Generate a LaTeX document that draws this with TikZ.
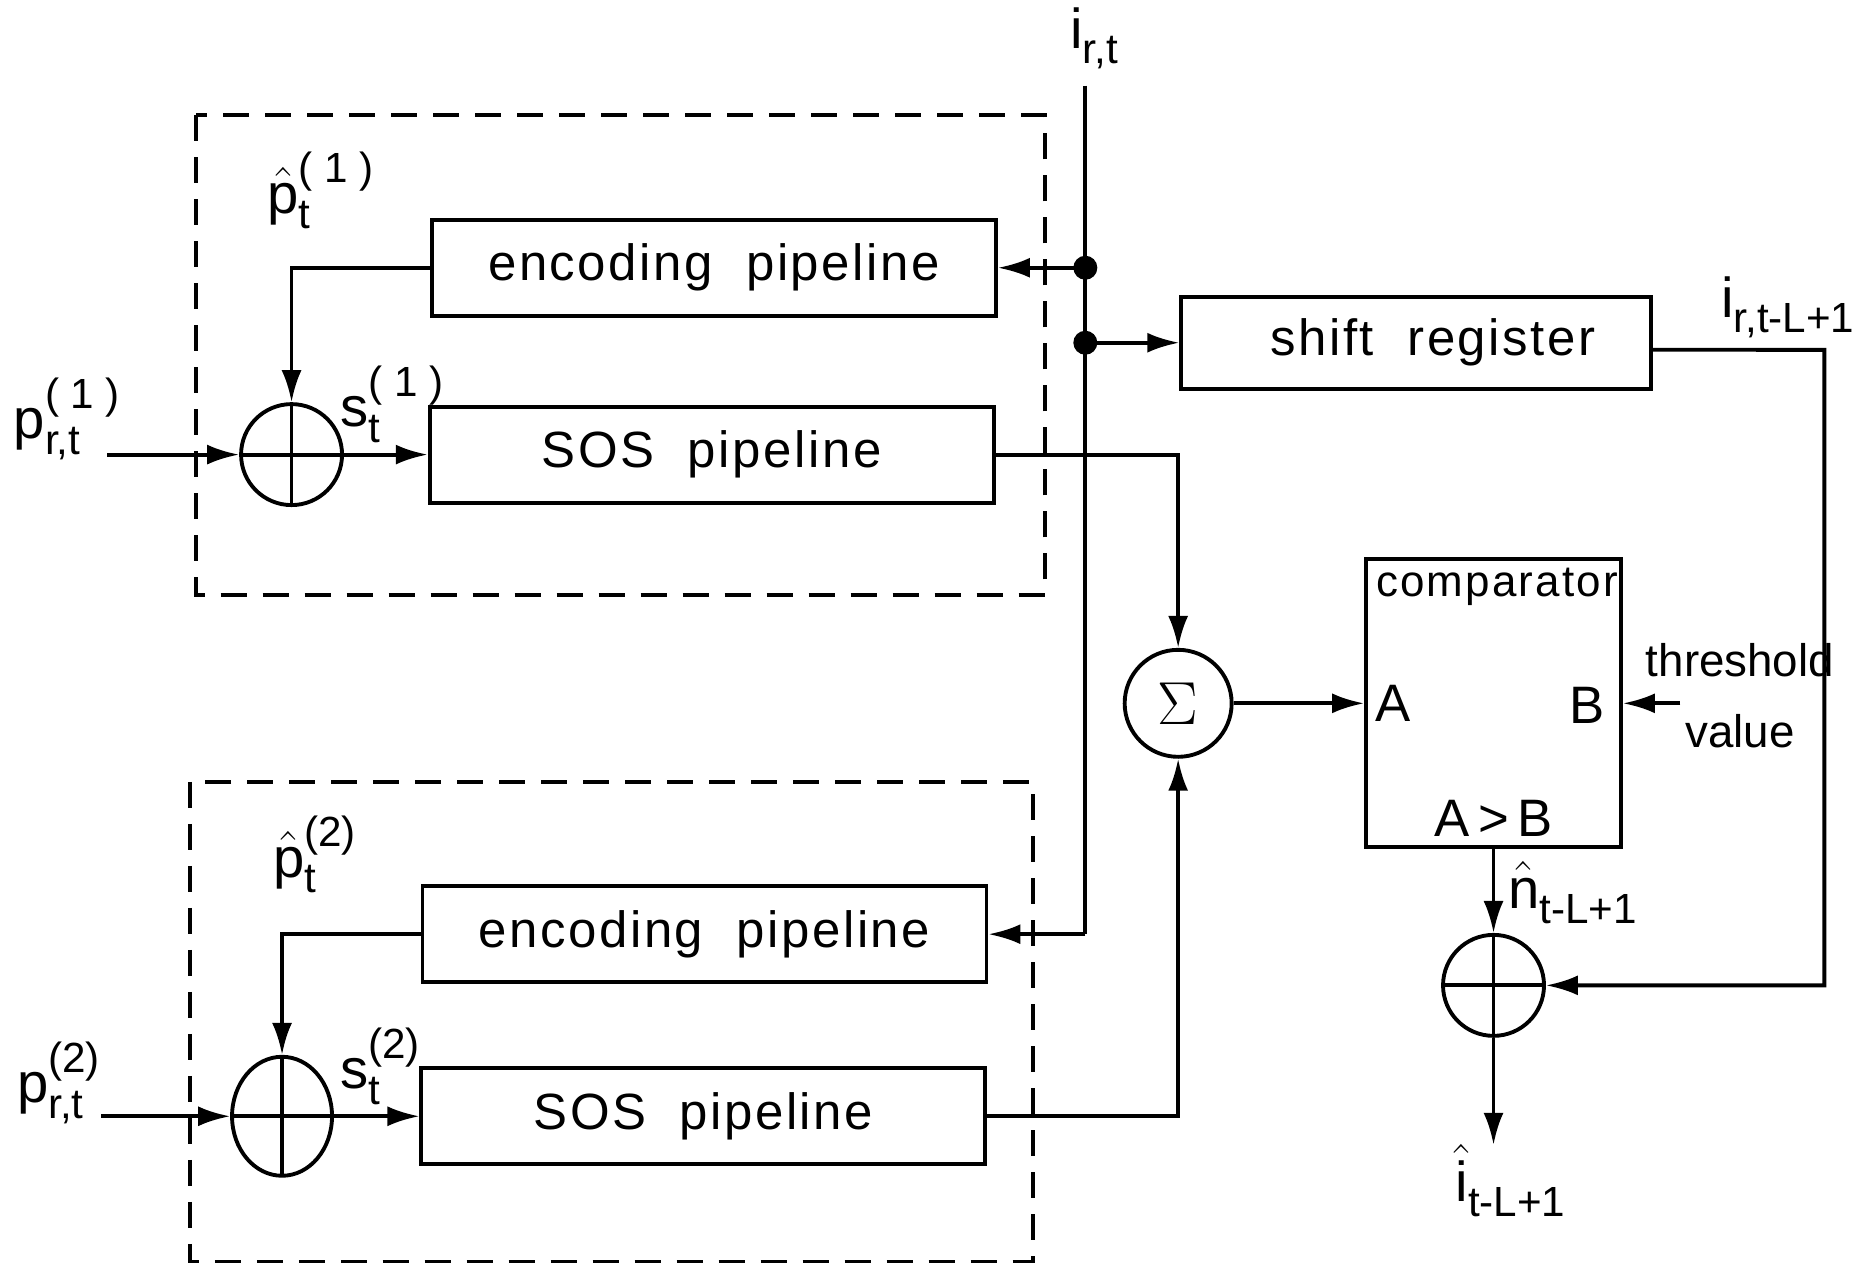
\documentclass[tikz,border=0pt]{standalone}
\usepackage{amsmath}
\usepackage{fontspec}
\setmainfont{Liberation Sans}
\newfontfamily\spaced[LetterSpace=5]{Liberation Sans}
\newcommand{\scr}[1]{\mbox{\fontsize{12}{13}\selectfont #1}}
\newcommand{\lab}[3]{$\text{#1}^{\scr{#2}}_{\scr{#3}}$}
\newcommand{\labh}[3]{$\hat{\text{#1}}^{\scr{#2}}_{\scr{#3}}$}
\usetikzlibrary{arrows.meta,shapes.geometric}
\begin{document}
\begin{tikzpicture}[x=0.0119cm,y=-0.0119cm,
  line width=1.1pt,
  >={Latex[length=3.2mm,width=2mm]},
  font=\fontsize{14}{16}\selectfont,
  blk/.style={draw,minimum width=5.64cm,minimum height=0.96cm,inner sep=0pt,font=\fontsize{14.5}{16}\selectfont\spaced},
  grp/.style={draw,dashed,dash pattern=on 0.26cm off 0.16cm},
  cross/.style={path picture={\draw[line width=1.1pt]
      (path picture bounding box.north) -- (path picture bounding box.south)
      (path picture bounding box.west) -- (path picture bounding box.east);}},
  adder/.style={draw,circle,minimum size=1.01cm,inner sep=0pt,cross},
  adderE/.style={draw,ellipse,minimum width=1.0cm,minimum height=1.19cm,inner sep=0pt,cross},
  lbl/.style={inner sep=0pt,font=\fontsize{16}{17}\selectfont},
  dot/.style={circle,fill,inner sep=0pt,minimum size=2.4mm}
]
\useasboundingbox (0,0) rectangle (1568,1065);

% dashed groups
\draw[grp] (165,97) rectangle (878,500);
\draw[grp] (160,657) rectangle (868,1060);

% blocks
\node[blk] (enc1) at (600,225) {encoding\ \ pipeline};
\node[blk] (sos1) at (598,382) {SOS\ \ pipeline};
\node[blk] (enc2) at (592,785) {encoding\ \ pipeline};
\node[blk] (sos2) at (591,938) {SOS\ \ pipeline};
\node[draw,minimum width=4.70cm,minimum height=0.92cm,inner sep=0pt,
      font=\fontsize{14.5}{16}\selectfont\spaced] (shift) at (1190,288) {\ \ shift\ \ register};
\node[draw,minimum width=2.55cm,minimum height=2.88cm,inner sep=0pt] (comp) at (1255,591) {};

% comparator inner texts
\node[font=\fontsize{12.5}{14}\selectfont\spaced] (ctitle) at (1258,493) {comparator};
\node[font=\fontsize{15}{16}\selectfont] (cA) at (1171,591) {A};
\node[font=\fontsize{15}{16}\selectfont] (cB) at (1334,593) {B};
\node[font=\fontsize{15}{16}\selectfont] (cAB) at (1255,688) {A\,>\,B};

% adders
\node[adder] (add1) at (245,382) {};
\node[adderE] (add2) at (237,938) {};
\node[circle,draw,minimum size=1.07cm,inner sep=0pt,font=\fontsize{19}{20}\selectfont] (sum) at (990,591) {$\Sigma$};
\node[adder] (add3) at (1255,828) {};

% i_{r,t} bus
\coordinate (itop) at (912,72);
\coordinate (ibot) at (912,785);
\coordinate (d1) at (912,225);
\coordinate (d2) at (912,288);
\draw (itop) -- (ibot);
\node[dot] (dot1) at (d1) {};
\node[dot] (dot2) at (d2) {};
\draw[->] (d1) -- (enc1.east);
\draw[->] (d2) -- (shift.west);
\draw[->] (ibot) -- (enc2.east);

% inputs
\coordinate (in1) at (90,382);
\coordinate (in2) at (85,938);
\draw[->] (in1) -- (add1.west);
\draw[->] (in2) -- (add2.west);

% feedback loops
\draw[->] (enc1.west) -| (add1.north);
\draw[->] (enc2.west) -| (add2.north);
\draw[->] (add1.east) -- (sos1.west);
\draw[->] (add2.east) -- (sos2.west);

% to sum
\draw[->] (sos1.east) -| (sum.north);
\draw[->] (sos2.east) -| (sum.south);
\draw[->] (sum.east) -- (comp.west);

% threshold
\coordinate (thr) at (1412,591);
\draw[->] (thr) -- (comp.east);

% comparator to final adder
\draw[->] (comp.south) -- (add3.north);
\coordinate (out) at (1255,962);
\draw[->] (add3.south) -- (out);

% shift register output
\coordinate (sr) at (1533,294);
\draw[->] ([yshift=-0.07cm]shift.east) -- (sr) |- (add3.east);

% labels
\node[lbl] (lirt) at (920,32) {\lab{i}{}{r,t}};
\node[lbl] (lp1) at (57,352) {\lab{p}{( 1 )}{r,t}};
\node[lbl] (lp2) at (50,910) {\lab{p}{(2)}{r,t}};
\node[lbl] (lph1) at (270,160) {\labh{p}{( 1 )}{t}};
\node[lbl] (lph2) at (265,718) {\labh{p}{(2)}{t}};
\node[lbl] (ls1) at (330,340) {\lab{s}{( 1 )}{t}};
\node[lbl] (ls2) at (320,896) {\lab{s}{(2)}{t}};
\node[lbl] (lirl) at (1503,258) {\lab{i}{}{r,t-L+1}};
\node[lbl] (lnh) at (1322,750) {\labh{n}{}{t-L+1}};
\node[lbl] (lih) at (1270,992) {\labh{i}{}{t-L+1}};
\node[font=\fontsize{13}{14}\selectfont] (lthr) at (1462,555) {threshold};
\node[font=\fontsize{13}{14}\selectfont] (lval) at (1462,614) {value};
\end{tikzpicture}
\end{document}
